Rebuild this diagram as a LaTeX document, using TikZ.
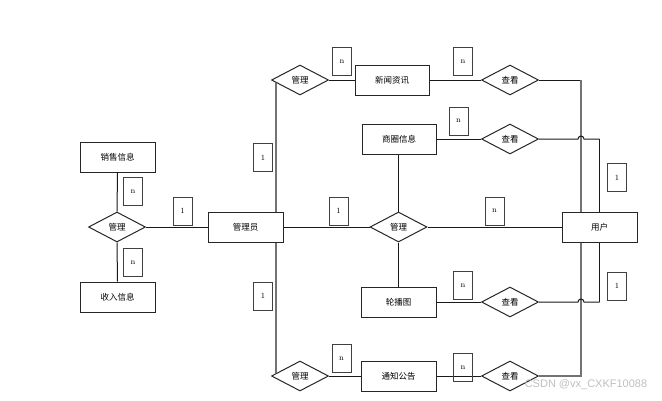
\documentclass[tikz,border=0pt]{standalone}
\usepackage{fontspec}
\newfontfamily\cjk{Noto Sans CJK SC}
\newfontfamily\wmfont{Liberation Sans}
\usetikzlibrary{shapes.geometric,calc}
\begin{document}
\begin{tikzpicture}[x=1pt,y=-1pt,
  ent/.style={draw=black!85,line width=1pt,fill=white,minimum width=75pt,minimum height=30pt,inner sep=0pt,font=\cjk\fontsize{8.5}{10}\selectfont},
  rel/.style={diamond,draw=black!85,line width=1pt,fill=white,minimum width=57pt,minimum height=30pt,inner sep=0pt,font=\cjk\fontsize{8.5}{10}\selectfont},
  lab/.style={draw=black!75,line width=1pt,minimum width=19pt,minimum height=28pt,inner sep=0pt,font=\fontsize{8}{9}\selectfont},
  con/.style={line width=1pt,black!90},
  trunk/.style={line width=1.6pt,black!55}]
\useasboundingbox (0,0) rectangle (662,400);
% relationships
\node[rel] (gl1) at (117,227) {管理};
\node[rel] (gl2) at (300,80) {管理};
\node[rel] (gl4) at (300,376) {管理};
\node[rel] (ck1) at (510,80) {查看};
\node[rel] (ck2) at (510,139) {查看};
\node[rel] (ck3) at (510,302) {查看};
\node[rel] (ck4) at (510,376) {查看};
% trunk lines behind boxes
\coordinate (t1) at ($(gl2.west)!0.18!(gl2.south)$);
\coordinate (t2) at ($(gl4.west)!0.18!(gl4.north)$);
\draw[trunk] (t1) -- (t2);
\coordinate (c1) at (581,80);
\coordinate (c2) at (581,376);
\draw[con] (ck1.east) -- (c1);
\draw[trunk] (c1) -- (c2) -- (ck4.east);
% entities
\node[ent] (xs) at (117.5,157) {销售信息};
\node[ent] (sr) at (117.5,297) {收入信息};
\node[ent] (gly) at (245.5,227) {管理员};
\node[ent,minimum width=74pt] (xw) at (392,80) {新闻资讯};
\node[ent,minimum width=74pt] (sq) at (399,139) {商圈信息};
\node[rel] (gl3) at (398.5,227) {管理};
\node[ent] (lb) at (398.5,302) {轮播图};
\node[ent] (tz) at (398.5,376) {通知公告};
% hops to 用户
\coordinate (h1) at (578,139);
\coordinate (h2) at (578,302);
\draw[con] (ck2.east) -- (h1) arc[start angle=180,end angle=360,radius=3] -- (599.5,139) coordinate (u1);
\draw[con] (ck3.east) -- (h2) arc[start angle=180,end angle=360,radius=3] -- (599.5,302) coordinate (u2);
\node[ent] (yh) at (599.5,227) {用户};
\draw[con] (u1) -- (yh.north);
\draw[con] (u2) -- (yh.south);
% other connectors
\draw[con] (xs.south) -- (gl1.north);
\draw[con] (gl1.south) -- (sr.north);
\draw[con] (gl1.east) -- (gly.west);
\draw[con] (gl2.east) -- (xw.west);
\draw[con] (xw.east) -- (ck1.west);
\draw[con] (sq.east) -- (ck2.west);
\draw[con] (gl3.north |- sq.south) -- (gl3.north);
\draw[con] (gly.east) -- (gl3.west);
\draw[con] (gl3.east) -- (yh.west);
\draw[con] (gl3.south) -- (lb.north);
\draw[con] (lb.east) -- (ck3.west);
\draw[con] (gl4.east) -- (tz.west);
\draw[con] (tz.east) -- (ck4.west);
% cardinality labels
\node[lab] (l1) at (133,191.5) {n};
\node[lab] (l2) at (133,262.5) {n};
\node[lab] (l3) at (182.5,211) {1};
\node[lab] (l4) at (263,157.5) {1};
\node[lab] (l5) at (263,296) {1};
\node[lab] (l6) at (342,61.5) {n};
\node[lab] (l7) at (463,61.5) {n};
\node[lab] (l8) at (458.5,121) {n};
\node[lab] (l9) at (338.5,211) {1};
\node[lab] (l10) at (494.5,211) {n};
\node[lab] (l11) at (463,285.5) {n};
\node[lab] (l12) at (617,177.5) {1};
\node[lab] (l13) at (617,286) {1};
\node[lab] (l14) at (341.5,358.5) {n};
\node[lab] (l15) at (463,367.5) {n};
% watermark
\node[font=\wmfont\fontsize{11}{13}\selectfont,text=black!25,inner sep=0pt] (wm) at (586,385) {CSDN @vx\_CXKF10088};
\end{tikzpicture}
\end{document}
